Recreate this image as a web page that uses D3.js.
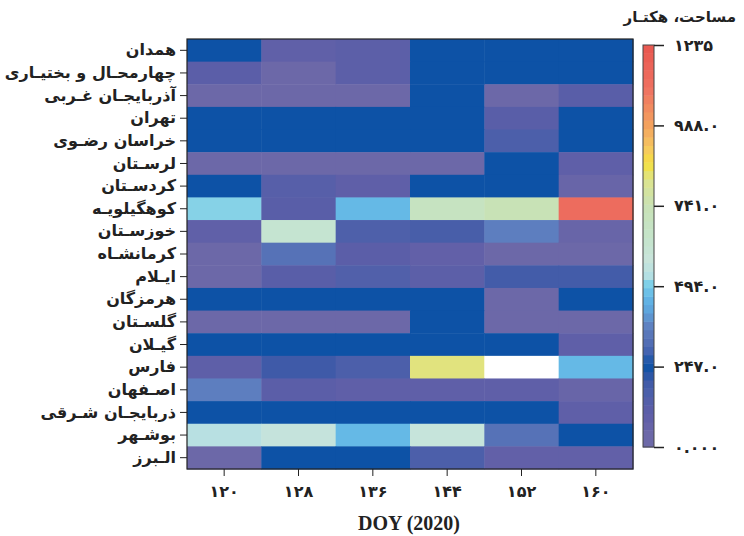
<!DOCTYPE html>
<html><head><meta charset="utf-8">
<script src="https://cdn.jsdelivr.net/npm/d3@7"></script>
<style>body{margin:0;background:#fff}</style>
</head><body>
<svg id="c" width="744" height="536"></svg>
<script>
const provinces = ["همدان","چهارمحـال و بختیـاری","آذربایجـان غـربی","تهران","خراسان رضـوی","لرسـتان","کردسـتان","کوهگیلویـه","خوزسـتان","کرمانشـاه","ایـلام","هرمزگان","گلسـتان","گیـلان","فارس","اصـفهان","ذربایجـان شـرقی","بوشـهر","الـبرز"];
const days = [120,128,136,144,152,160];
const dayLabels = ["۱۲۰","۱۲۸","۱۳۶","۱۴۴","۱۵۲","۱۶۰"];
const values = [
 [250, 90,110,250,250,250],
 [115, 40,110,250,250,250],
 [ 40, 40, 40,250, 40,125],
 [250,250,250,250,125,250],
 [250,250,250,250,165,250],
 [ 40, 40, 40, 40,250, 95],
 [250,130, 95,250,250, 55],
 [505,125,465,690,741,1130],
 [ 90,620,160,175,365, 55],
 [ 40,335,115, 80, 40, 40],
 [ 40,125,150,110,190,190],
 [250,250,250,250, 40,250],
 [ 40, 40, 40,250, 40, 40],
 [250,250,250,250,250, 95],
 [100,200,165,830,null,465],
 [365,115, 95, 95, 95, 55],
 [250,250,250,250,250, 95],
 [530,570,465,575,335,250],
 [ 40,250,250,165, 80, 80]
];
const cbTicks = [0,247,494,741,988,1235];
const cbLabels = ["۰.۰۰۰","۲۴۷.۰","۴۹۴.۰","۷۴۱.۰","۹۸۸.۰","۱۲۳۵"];
const colorStops = [0,40,80,120,160,200,250,300,340,370,420,460,500,530,580,640,741,820,870,920,988,1100,1235];
const colorList = ["#6e6aa8","#6c68a8","#6260a8","#5a5ea8","#4e60aa","#3f5aa8","#0d52a6","#4a66b2","#5874b8","#5e80c0","#5ea4dc","#62b6e6","#7ccfe8","#b8e0e2","#c8e4da","#c4e4cc","#c8e2b6","#dce48e","#f4e040","#f6c860","#f3a25e","#ef7262","#e8564f"];

const svg = d3.select("#c");
const m = {l:187, r:633, t:39, b:469};
const x = d3.scaleBand().domain(days).range([m.l, m.r]);
const y = d3.scaleBand().domain(provinces).range([m.t, m.b]);
const color = d3.scaleLinear().domain(colorStops).range(colorList).clamp(true);

const cells = [];
values.forEach((row,i)=>row.forEach((v,j)=>cells.push({p:provinces[i], d:days[j], v})));
svg.append("g").selectAll("rect").data(cells).join("rect")
  .attr("x", d=>x(d.d)).attr("y", d=>y(d.p))
  .attr("width", x.bandwidth()+0.5).attr("height", y.bandwidth()+0.5)
  .attr("fill", d=>d.v==null ? "#ffffff" : color(d.v));
svg.append("rect").attr("x",m.l).attr("y",m.t).attr("width",m.r-m.l).attr("height",m.b-m.t)
  .attr("fill","none").attr("stroke","#222").attr("stroke-width",1.2);

const ax = svg.append("g").attr("transform",`translate(0,${m.b})`)
  .call(d3.axisBottom(x).tickSize(7).tickFormat((d,i)=>dayLabels[i]));
ax.select(".domain").remove();
ax.selectAll("text").attr("font-family","DejaVu Sans").attr("font-weight","bold").attr("font-size",16).attr("fill","#222").attr("dy","1.1em");
ax.selectAll("line").attr("stroke","#222");

const ay = svg.append("g").attr("transform",`translate(${m.l},0)`)
  .call(d3.axisLeft(y).tickSize(7).tickPadding(4));
ay.select(".domain").remove();
ay.selectAll("text").attr("font-family","DejaVu Sans").attr("font-weight","bold").attr("font-size",16).attr("fill","#222");
ay.selectAll("line").attr("stroke","#222");

svg.append("text").attr("x",409).attr("y",530).attr("text-anchor","middle")
  .attr("font-family","Liberation Serif").attr("font-weight","bold").attr("font-size",20).attr("fill","#222")
  .text("DOY (2020)");

// colorbar
const cb = {x:643, w:11, t:45, b:447};
const cy = d3.scaleLinear().domain([0,1235]).range([cb.b, cb.t]);
const nb = 48, step = 1235/nb;
const bands = d3.range(nb).map(i=>i*step);
svg.append("g").selectAll("rect").data(bands).join("rect")
  .attr("x",cb.x).attr("width",cb.w)
  .attr("y",d=>cy(d+step)).attr("height",d=>cy(d)-cy(d+step)+0.5)
  .attr("fill",d=>color(d+step/2));
svg.append("rect").attr("x",cb.x).attr("y",cb.t).attr("width",cb.w).attr("height",cb.b-cb.t)
  .attr("fill","none").attr("stroke","#444").attr("stroke-width",1);
const ac = svg.append("g").attr("transform",`translate(${cb.x+cb.w},0)`)
  .call(d3.axisRight(cy).tickValues(cbTicks).tickSize(10).tickPadding(10).tickFormat((d,i)=>cbLabels[i]));
ac.select(".domain").remove();
ac.selectAll("text").attr("font-family","DejaVu Sans").attr("font-weight","bold").attr("font-size",16).attr("fill","#222");
ac.selectAll("line").attr("stroke","#222").attr("stroke-width",1.5);

svg.append("text").attr("x",736).attr("y",22).attr("text-anchor","end")
  .attr("font-family","DejaVu Sans").attr("font-weight","bold").attr("font-size",15).attr("fill","#222")
  .text("مساحت، هکتـار");
</script>
</body></html>
